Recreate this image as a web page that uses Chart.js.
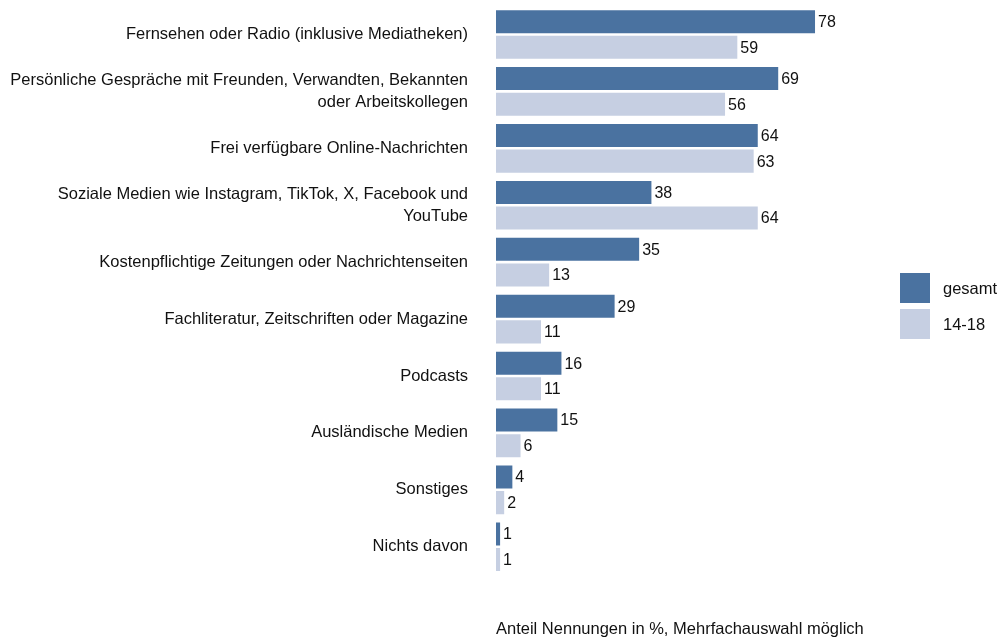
<!DOCTYPE html>
<html>
<head>
<meta charset="utf-8">
<script src="https://cdn.jsdelivr.net/npm/chart.js@4"></script>
<style>
body{margin:0;background:#fff;font-family:"Liberation Sans",Arial,sans-serif}
#wrap{position:relative;width:1006px;height:637px}
#legend{position:absolute;left:900px;top:273px;font-size:16.5px;color:#111}
.item{display:flex;align-items:center;height:30px;margin-bottom:6px}
.box{width:30px;height:30px;margin-right:13px}
</style>
</head>
<body>
<div id="wrap">
<canvas id="FirstChart" width="1006" height="637"></canvas>
<div id="legend"></div>
</div>
<script>
let categories=[
 'Fernsehen oder Radio (inklusive Mediatheken)',
 ['Persönliche Gespräche mit Freunden, Verwandten, Bekannten','oder Arbeitskollegen'],
 'Frei verfügbare Online-Nachrichten',
 ['Soziale Medien wie Instagram, TikTok, X, Facebook und','YouTube'],
 'Kostenpflichtige Zeitungen oder Nachrichtenseiten',
 'Fachliteratur, Zeitschriften oder Magazine',
 'Podcasts',
 'Ausländische Medien',
 'Sonstiges',
 'Nichts davon'
]
let gesamt=[78,69,64,38,35,29,16,15,4,1]
let jugend=[59,56,63,64,13,11,11,6,2,1]
let seriesNames=['gesamt','14-18']
let seriesColors=['#4a72a0','#c6cfe2']
let fontFam='"Liberation Sans", Arial, sans-serif'

let valueLabels={
 id:'valueLabels',
 afterDatasetsDraw(chart){
  let ctx=chart.ctx
  ctx.save()
  ctx.font='16px '+fontFam
  ctx.fillStyle='#111'
  ctx.textBaseline='middle'
  ctx.textAlign='left'
  chart.data.datasets.forEach((ds,i)=>{
   chart.getDatasetMeta(i).data.forEach((bar,j)=>{
    ctx.fillText(ds.data[j],bar.x+3,bar.y+1)
   })
  })
  ctx.restore()
 }
}

let firstChart=document.getElementById('FirstChart').getContext('2d')
let myChart=new Chart(firstChart,{
 type:'bar',
 data:{
  labels:categories,
  datasets:[
   {label:seriesNames[0],data:gesamt,backgroundColor:seriesColors[0],categoryPercentage:0.9,barPercentage:0.9},
   {label:seriesNames[1],data:jugend,backgroundColor:seriesColors[1],categoryPercentage:0.9,barPercentage:0.9}
  ]
 },
 options:{
  indexAxis:'y',
  responsive:false,
  animation:false,
  layout:{padding:{top:6,right:101,left:0,bottom:0}},
  plugins:{legend:{display:false},tooltip:{enabled:false}},
  scales:{
   x:{
    min:0,max:100,
    grid:{display:false},border:{display:false},
    ticks:{display:false},
    title:{display:true,text:'Anteil Nennungen in %, Mehrfachauswahl möglich',align:'start',
     color:'#111',font:{size:16.5,family:fontFam},padding:{top:36,bottom:-2}}
   },
   y:{
    grid:{display:false},border:{display:false},
    ticks:{color:'#111',padding:20,font:{size:16.5,family:fontFam,lineHeight:1.33}},
    afterFit(scale){scale.paddingTop=0;scale.paddingBottom=0;scale.width=496}
   }
  }
 },
 plugins:[valueLabels]
})

let legend=document.getElementById('legend')
seriesNames.forEach((n,i)=>{
 let item=document.createElement('div')
 item.className='item'
 item.innerHTML='<div class="box" style="background:'+seriesColors[i]+'"></div><span>'+n+'</span>'
 legend.append(item)
})
</script>
</body>
</html>
